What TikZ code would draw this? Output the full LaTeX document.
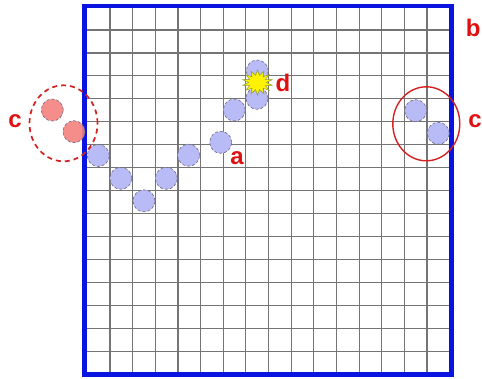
\documentclass[tikz,border=0pt]{standalone}
\usepackage{fontspec}
\setmainfont{Liberation Sans}
\usetikzlibrary{shapes.geometric}
\definecolor{frameblue}{HTML}{0A14E0}
\definecolor{beadfill}{HTML}{B9BBF6}
\definecolor{pinkfill}{HTML}{F4827E}
\definecolor{lblred}{HTML}{E01010}
\definecolor{gridgray}{HTML}{747474}
\definecolor{beadedge}{HTML}{6A6A80}
\definecolor{staredge}{HTML}{8A9A30}
\definecolor{ringred}{HTML}{D42020}
\begin{document}
\begin{tikzpicture}[x=1pt,y=-1pt,
  gridline/.style={draw=gridgray,line width=1.1pt},
  bead/.style={circle,minimum size=22pt,inner sep=0pt,fill=beadfill,draw=beadedge,densely dashed,line width=0.6pt},
  pinkbead/.style={bead,fill=pinkfill,fill opacity=0.9},
  lbl/.style={text=lblred,font=\bfseries\fontsize{24}{24}\selectfont,inner sep=0pt},
  ring/.style={draw=ringred,line width=1.4pt,ellipse,inner sep=0pt,minimum width=67pt,minimum height=74pt},
  burst/.style={star,star points=14,star point ratio=1.7,minimum size=25pt,inner sep=0pt,fill=yellow,draw=staredge,line width=0.5pt}]
\useasboundingbox (0,0) rectangle (482,378);
% grid
\foreach \i in {1,...,15} {
  \draw[gridline] ({87.4+22.64*\i},7.05) -- ({87.4+22.64*\i},374.25);
  \draw[gridline] (87.4,{7.05+22.95*\i}) -- (449.6,{7.05+22.95*\i});
}
% frame
\draw[frameblue,line width=4.5pt] (84.5,5.8) rectangle (451.5,374.5);
% chain of beads
\node[bead] (b1) at (98.3,155.5) {};
\node[bead] (b2) at (120.8,178.3) {};
\node[bead] (b3) at (144,200.8) {};
\node[bead] (b4) at (166.3,178.3) {};
\node[bead] (b5) at (188.6,155.2) {};
\node[bead] (b6) at (220.7,142.3) {};
\node[bead] (b7) at (234.3,110) {};
\node[bead] (b8) at (257,98.3) {};
\node[bead] (b9) at (257.3,71) {};
% burst
\begin{scope}[shift={(257.5,82.5)},xscale=1.2,transform shape]
\node[burst] (dstar) at (0,0) {};
\end{scope}
% right beads
\node[bead] (r1) at (415.7,110.7) {};
\node[bead] (r2) at (438.3,133.3) {};
\node[ring] (rring) at (426.3,123.8) {};
% left pink beads
\node[pinkbead] (p1) at (52.3,110) {};
\node[pinkbead] (p2) at (74,131.7) {};
\node[ring,dashed,dash pattern=on 5pt off 4pt,line width=1.7pt,minimum width=68pt,minimum height=76pt] (lring) at (63.5,123.3) {};
% labels
\node[lbl] (la) at (237,158.5) {a};
\node[lbl] (lb) at (473.3,28.3) {b};
\node[lbl] (lc1) at (15,120.7) {c};
\node[lbl] (lc2) at (475,120.7) {c};
\node[lbl] (ld) at (283,82.5) {d};
\end{tikzpicture}
\end{document}
